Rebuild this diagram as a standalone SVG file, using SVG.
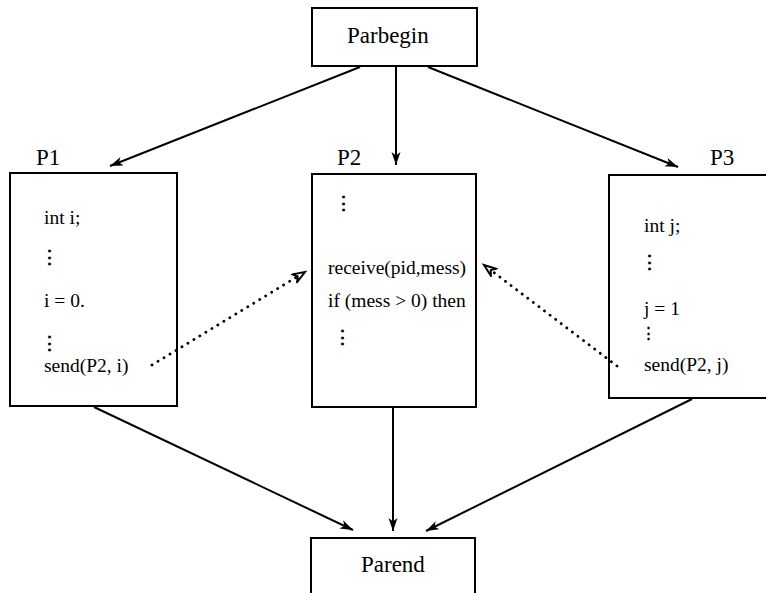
<svg xmlns="http://www.w3.org/2000/svg" width="766" height="593" viewBox="0 0 766 593">
<defs>
<marker id="arr" markerUnits="userSpaceOnUse" markerWidth="14" markerHeight="10" refX="13" refY="4.5" orient="auto">
<path d="M0,0 L13,4.5 L0,9 L3.5,4.5 z" fill="#000"/>
</marker>
<marker id="darr" markerUnits="userSpaceOnUse" markerWidth="16" markerHeight="12" refX="13" refY="5.5" orient="auto">
<path d="M1,1 L13,5.5 L1,10 L4.5,5.5 z" fill="#fff" stroke="#000" stroke-width="2" stroke-linejoin="miter"/>
</marker>
</defs>
<style>
.box{fill:#fff;stroke:#000;stroke-width:2}
.t{font-family:"Liberation Serif","Times New Roman",serif;fill:#000}
.title{font-size:23px}
.code{font-size:19.5px}
.ell{font-family:"DejaVu Serif","Liberation Serif",serif;font-size:19px;font-weight:bold}
.edge{stroke:#000;stroke-width:2;fill:none;marker-end:url(#arr)}
.msg{stroke:#000;stroke-width:2.8;fill:none;stroke-dasharray:0.1 6.9;stroke-linecap:round;marker-end:url(#darr)}
</style>
<rect width="766" height="593" fill="#fff"/>
<g id="parbegin">
<rect class="box" x="312" y="8" width="165" height="58"/>
<text class="t title" x="347" y="43">Parbegin</text>
</g>
<g id="p1">
<rect class="box" x="10" y="173" width="167" height="233"/>
<text class="t title" x="36" y="165">P1</text>
<text class="t code" x="44" y="224">int i;</text>
<text class="t ell" x="40" y="264">⋮</text>
<text class="t code" x="44" y="307">i = 0.</text>
<text class="t ell" x="40" y="350">⋮</text>
<text class="t code" x="44" y="372">send(P2, i)</text>
</g>
<g id="p2">
<rect class="box" x="312" y="174" width="164" height="233"/>
<text class="t title" x="337" y="165">P2</text>
<text class="t ell" x="334" y="210">⋮</text>
<text class="t code" x="328" y="274">receive(pid,mess)</text>
<text class="t code" x="328" y="307">if (mess &gt; 0) then</text>
<text class="t ell" x="333" y="344">⋮</text>
</g>
<g id="p3">
<rect class="box" x="609" y="175" width="160" height="223"/>
<text class="t title" x="710" y="165">P3</text>
<text class="t code" x="644" y="232">int j;</text>
<text class="t ell" x="640" y="269">⋮</text>
<text class="t code" x="644" y="315">j = 1</text>
<text class="t ell" x="641" y="338" style="font-size:15px">⋮</text>
<text class="t code" x="644" y="371">send(P2, j)</text>
</g>
<g id="parend">
<rect class="box" x="311" y="538" width="164" height="70"/>
<text class="t title" x="361" y="572">Parend</text>
</g>
<g id="connectors">
<line class="edge" x1="360" y1="67" x2="110" y2="166"/>
<line class="edge" x1="396" y1="67" x2="396" y2="165"/>
<line class="edge" x1="428" y1="67" x2="678" y2="167"/>
<line class="edge" x1="94" y1="407" x2="353" y2="530"/>
<line class="edge" x1="393" y1="407" x2="393" y2="531"/>
<line class="edge" x1="692" y1="399" x2="426" y2="531"/>
<line class="msg" x1="152" y1="365" x2="305" y2="272"/>
<line class="msg" x1="617" y1="366" x2="484" y2="265"/>
</g>
</svg>
